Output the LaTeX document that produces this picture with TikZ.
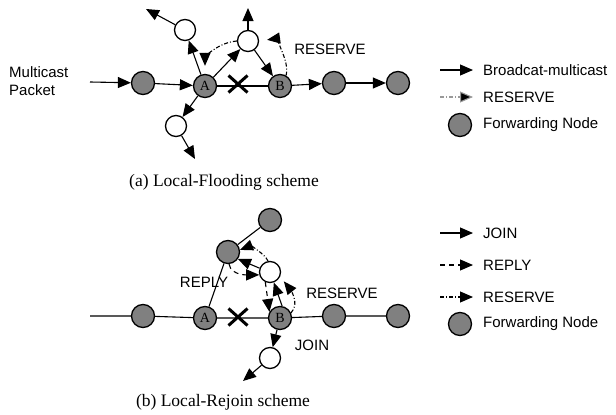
\documentclass[tikz,border=0pt]{standalone}
\usepackage{fontspec}
\setmainfont{Liberation Serif}
\setsansfont{Liberation Sans}
\usetikzlibrary{arrows.meta,shapes.misc}

\begin{document}
\begin{tikzpicture}[x=1pt,y=-1pt,
  fwd/.style={circle,draw,line width=1.3pt,fill=black!50,minimum size=23pt,inner sep=0pt,font=\rmfamily\fontsize{14}{14}\selectfont},
  free/.style={circle,draw,line width=1.3pt,fill=white,minimum size=21pt,inner sep=0pt},
  lbl/.style={font=\sffamily\fontsize{15}{18}\selectfont,inner sep=0pt},
  captxt/.style={font=\rmfamily\fontsize{17.5}{20}\selectfont},
  cut/.style={cross out,draw,line width=3pt,minimum width=16pt,minimum height=14pt,inner sep=0pt},
  bm/.style={line width=1.1pt,-{Triangle[length=13pt,width=11pt]}},
  rp/.style={bm,dash pattern=on 5pt off 4pt},
  rs/.style={bm,dash pattern=on 4pt off 2pt on 1pt off 2pt}]
\useasboundingbox (0,0) rectangle (616,415);

% (a) local flooding
\node[lbl,align=left,anchor=west] (mp) at (9,81) {Multicast\\Packet};
\coordinate (in) at (90,82);
\node[fwd] (a1) at (143,83) {};
\node[fwd] (A) at (205,86) {A};
\node[fwd] (B) at (280,86) {B};
\node[fwd] (a4) at (334,83) {};
\node[fwd] (a5) at (398,83) {};
\node[cut] (xa) at (238,84) {};
\node[free] (w1) at (185,30) {};
\node[free] (w2) at (248,41) {};
\node[free] (w3) at (176,126) {};
\coordinate (e1) at (146,9);
\coordinate (e2) at (248,8);
\coordinate (e3) at (195,159);
\draw[bm] (in) -- (a1);
\draw[bm] (a1) -- (A);
\draw[line width=1.1pt] (A) -- (B);
\draw[bm] (B) -- (a4);
\draw[bm] (a4) -- (a5);
\draw[bm] (A) -- (w1);
\draw[bm] (w1) -- (e1);
\draw[bm] (A) -- (w2);
\draw[bm] (w2) -- (e2);
\draw[bm] (w2) -- (B);
\draw[bm] (A) -- (w3);
\draw[bm] (w3) -- (e3);
\draw[rs,shorten >=8pt] (w2.west) .. controls +(-22,2) and +(0,-14) .. (A.north);
\draw[rs,shorten >=8pt] (B.60) .. controls +(4,-16) and +(14,-2) .. (w2.east);
\node[lbl] (rsvA) at (330,49) {RESERVE};
\node[captxt] (capA) at (224,182) {(a) Local-Flooding scheme};

% legend (a)
\coordinate (la1) at (440,70);
\node[lbl,anchor=west] (ta1) at (483,70) {Broadcat-multicast};
\coordinate (la2) at (440,97);
\node[lbl,anchor=west] (ta2) at (483,97) {RESERVE};
\node[fwd] (la3) at (460,125) {};
\node[lbl,anchor=west] (ta3) at (483,125) {Forwarding Node};
\draw[bm,shorten >=10pt] (la1) -- (ta1.west);
\draw[rs,draw=black!40,-{Triangle[length=13pt,width=11pt,fill=black]},shorten >=10pt] (la2) -- (ta2.west);

% (b) local rejoin
\coordinate (in2) at (90,316);
\node[fwd] (b1) at (143,316) {};
\node[fwd] (A2) at (205,318) {A};
\node[fwd] (B2) at (280,318) {B};
\node[fwd] (b4) at (334,316) {};
\node[fwd] (b5) at (398,316) {};
\node[cut] (xb) at (238,317) {};
\node[fwd] (T) at (270,220) {};
\node[fwd] (S) at (228,252) {};
\node[free] (W) at (270,272) {};
\node[free] (Wb) at (270,358) {};
\coordinate (e4) at (243,381);
\draw[line width=1.1pt] (in2) -- (b1) -- (A2) -- (B2) -- (b4) -- (b5);
\draw[line width=1.1pt] (A2) -- (S);
\draw[line width=1.1pt] (S) -- (T);
\draw[bm] (B2) -- (Wb);
\draw[bm] (Wb) -- (e4);
\draw[bm] (B2.80) -- (W.-70);
\draw[bm] (W.160) -- (S.-35);
\draw[rp] (S.-85) .. controls +(2,12) and +(-10,0) .. (W.195);
\draw[rp] (W.245) -- (B2.150);
\draw[rs] (W.100) .. controls +(-4,-8) and +(10,-4) .. (S.10);
\draw[rs,shorten >=6pt] (B2.25) .. controls +(10,-10) and +(8,10) .. (W.-25);
\node[lbl] (rply) at (204,282) {REPLY};
\node[lbl] (rsvB) at (342,293) {RESERVE};
\node[lbl] (join) at (312,345) {JOIN};
\node[captxt] (capB) at (223,402) {(b) Local-Rejoin scheme};

% legend (b)
\coordinate (lb1) at (440,233);
\node[lbl,anchor=west] (tb1) at (483,233) {JOIN};
\coordinate (lb2) at (440,265);
\node[lbl,anchor=west] (tb2) at (483,265) {REPLY};
\coordinate (lb3) at (440,297);
\node[lbl,anchor=west] (tb3) at (483,297) {RESERVE};
\node[fwd] (lb4) at (460,324) {};
\node[lbl,anchor=west] (tb4) at (483,324) {Forwarding Node};
\draw[bm,shorten >=10pt] (lb1) -- (tb1.west);
\draw[rp,shorten >=10pt] (lb2) -- (tb2.west);
\draw[rs,shorten >=10pt] (lb3) -- (tb3.west);
\end{tikzpicture}
\end{document}
